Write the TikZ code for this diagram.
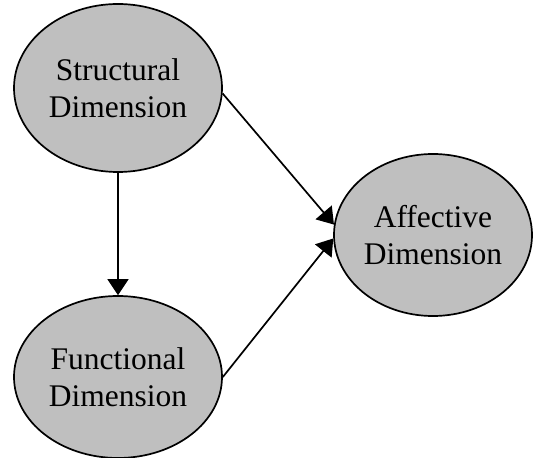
\documentclass[tikz,border=0pt]{standalone}
\usepackage{fontspec}
\setmainfont{Liberation Serif}
\usetikzlibrary{shapes.geometric,arrows.meta}
\begin{document}
\begin{tikzpicture}[x=1pt,y=1pt,
  dimnode/.style={ellipse,draw=black,line width=1.7pt,fill=black!25,inner sep=0pt,
    align=center,font=\fontsize{31.5}{37}\selectfont},
  link/.style={line width=1.7pt,-{Triangle[length=16pt,width=21pt]}}]
\useasboundingbox (0,0) rectangle (533,458);
\node[dimnode,minimum width=208pt,minimum height=168pt] (s) at (118,370) {Structural\\Dimension};
\node[dimnode,minimum width=208pt,minimum height=162pt] (f) at (118,81) {Functional\\Dimension};
\node[dimnode,minimum width=198pt,minimum height=162pt] (a) at (433,223) {Affective\\Dimension};
\draw[link] (s.south) -- (f.north);
\draw[link] (s.357) -- (a.174);
\draw[link] (f.east) -- (a.182);
\end{tikzpicture}
\end{document}
